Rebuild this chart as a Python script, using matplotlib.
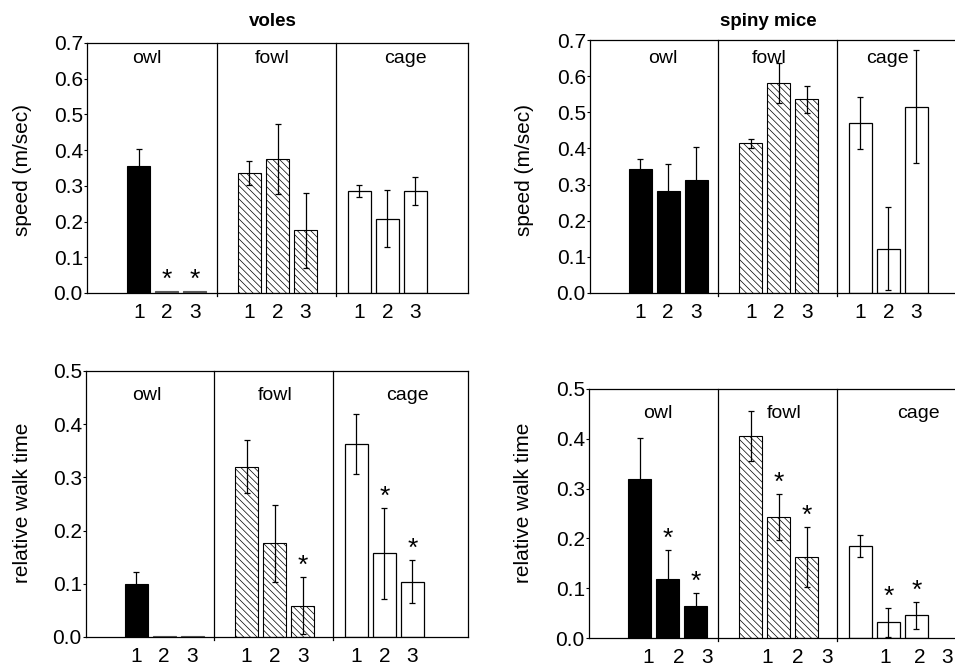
import numpy as np
import matplotlib
matplotlib.use('Agg')
import matplotlib.pyplot as plt

plt.rcParams['font.family'] = ['Liberation Sans', 'DejaVu Sans']
plt.rcParams['hatch.linewidth'] = 0.5

groups = ['owl', 'fowl', 'cage']
trials = ['1', '2', '3']

# voles, speed (m/sec)
vole_speed = [0.357, 0.006, 0.006, 0.336, 0.375, 0.176, 0.285, 0.208, 0.285]
vole_speed_err = [0.045, 0, 0, 0.033, 0.098, 0.105, 0.017, 0.080, 0.040]
vole_speed_sig = [0, 1, 1, 0, 0, 0, 0, 0, 0]

# spiny mice, speed (m/sec)
mice_speed = [0.344, 0.281, 0.313, 0.414, 0.580, 0.536, 0.471, 0.122, 0.516]
mice_speed_err = [0.026, 0.077, 0.090, 0.013, 0.055, 0.038, 0.072, 0.115, 0.155]
mice_speed_sig = [0, 0, 0, 0, 0, 0, 0, 0, 0]

# voles, relative walk time
vole_walk = [0.100, 0.002, 0.002, 0.320, 0.176, 0.059, 0.363, 0.157, 0.104]
vole_walk_err = [0.022, 0, 0, 0.050, 0.073, 0.054, 0.057, 0.085, 0.041]
vole_walk_sig = [0, 0, 0, 0, 0, 1, 0, 1, 1]

# spiny mice, relative walk time
mice_walk = [0.320, 0.118, 0.064, 0.405, 0.243, 0.162, 0.185, 0.032, 0.0455]
mice_walk_err = [0.082, 0.058, 0.026, 0.050, 0.046, 0.060, 0.022, 0.029, 0.027]
mice_walk_sig = [0, 1, 1, 0, 1, 1, 0, 1, 1]

W, H = 955, 665
fig = plt.figure(figsize=(W / 100, H / 100), dpi=100)

group_start = [0, 3.95, 7.87]
dividers = [2.78, 7.03]
xpos = np.array([g + k for g in group_start for k in range(3)])


def px_axes(l, t, r, b):
    return fig.add_axes([l / W, 1 - b / H, (r - l) / W, (b - t) / H])


def panel(ax, vals, errs, sig, ymax, xlim, label_x, label_y, tick_shift=None):
    for gi in range(3):
        sl = slice(gi * 3, gi * 3 + 3)
        x = xpos[sl]
        v = np.array(vals[sl])
        if gi == 0:
            cols = ['k' if val > 0.01 else '#5a5a5a' for val in v]
            ax.bar(x, v, width=0.82, color=cols, edgecolor=cols, linewidth=0.8, zorder=2)
        elif gi == 1:
            ax.bar(x, v, width=0.82, color='white', edgecolor='k', hatch='\\' * 5,
                   linewidth=0.8, zorder=2)
        else:
            ax.bar(x, v, width=0.82, color='white', edgecolor='k', linewidth=0.9, zorder=2)
    e = np.array(errs)
    m = e > 0
    ax.errorbar(xpos[m], np.array(vals)[m], yerr=e[m], fmt='none', ecolor='k',
                elinewidth=0.9, capsize=2, capthick=0.9, zorder=3)
    for x, v, er, s in zip(xpos, vals, errs, sig):
        if s:
            ax.annotate('*', (x, v + er), xytext=(0, 3), textcoords='offset points',
                        ha='center', va='baseline', fontsize=19, zorder=4)
    for d in dividers:
        ax.axvline(d, ymin=-0.012, ymax=1, color='k', linewidth=0.9, clip_on=False)
    for gi, g in enumerate(groups):
        ax.text(label_x[gi], label_y, g, transform=ax.get_xaxis_transform(),
                ha='center', va='baseline', fontsize=14)
    ax.set_xlim(*xlim)
    ax.set_ylim(0, ymax)
    ax.set_yticks(np.round(np.arange(0, ymax + 0.001, 0.1), 1))
    ax.yaxis.set_major_formatter(matplotlib.ticker.FormatStrFormatter('%.1f'))
    ticks = xpos if tick_shift is None else xpos + np.array(tick_shift)
    ax.set_xticks(ticks)
    ax.set_xticklabels(trials * 3)
    ax.tick_params(axis='x', length=0, pad=7, labelsize=15)
    ax.tick_params(axis='y', length=2, pad=1, labelsize=15, width=0.8)
    for sp in ax.spines.values():
        sp.set_linewidth(0.9)


ax1 = px_axes(87, 43, 468, 293)
panel(ax1, vole_speed, vole_speed_err, vole_speed_sig, 0.7, (-1.85, 11.75),
      [0.29, 4.75, 9.5], 0.92)

ax2 = px_axes(590, 40, 975, 293)
panel(ax2, mice_speed, mice_speed_err, mice_speed_sig, 0.7, (-1.79, 11.96),
      [0.82, 4.6, 8.82], 0.909)

ax3 = px_axes(86, 371, 468, 637)
panel(ax3, vole_walk, vole_walk_err, vole_walk_sig, 0.5, (-1.79, 11.86),
      [0.39, 4.96, 9.71], 0.891)

shift = [0.3, 0.4, 0.4, 0.6, 0.7, 0.75, 0.9, 1.12, 1.1]
ax4 = px_axes(589, 389, 1000, 638)
panel(ax4, mice_walk, mice_walk_err, mice_walk_sig, 0.5, (-1.82, 12.86),
      [0.64, 5.14, 9.96], 0.884, tick_shift=shift)

fig.text(273 / W, 1 - 21 / H, 'voles', ha='center', va='center', fontsize=13.5, fontweight='bold')
fig.text(768 / W, 1 - 21 / H, 'spiny mice', ha='center', va='center', fontsize=13.5, fontweight='bold')

fig.text(23 / W, 1 - 170 / H, 'speed (m/sec)', rotation=90, ha='center', va='center', fontsize=15)
fig.text(525 / W, 1 - 170 / H, 'speed (m/sec)', rotation=90, ha='center', va='center', fontsize=15)
fig.text(23 / W, 1 - 503 / H, 'relative walk time', rotation=90, ha='center', va='center', fontsize=15)
fig.text(523 / W, 1 - 503 / H, 'relative walk time', rotation=90, ha='center', va='center', fontsize=15)

fig.savefig('out.png', dpi=100)
